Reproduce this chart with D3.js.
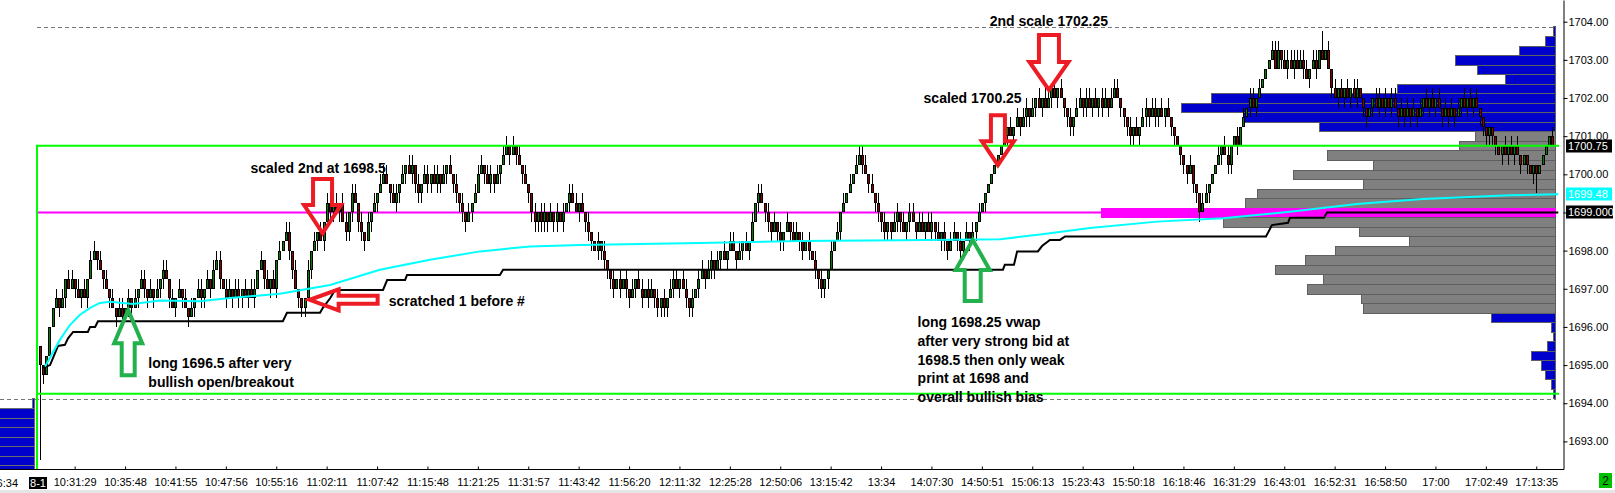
<!DOCTYPE html>
<html><head><meta charset="utf-8">
<script src="https://cdn.jsdelivr.net/npm/d3@7"></script>
<style>
html,body{margin:0;padding:0;background:#fff;overflow:hidden}
svg{display:block}
text{font-family:"Liberation Sans",Arial,sans-serif}
</style></head><body>
<svg id="c" width="1615" height="493"></svg>
<script>
// ---------------- DATA ----------------
const tickBase = 1690, tickSize = 0.25;          // closes are stored in ticks above 1690.00
const firstOpen = 1695.5;
const closesAM = [
20,19,21,24,26,27,26,27,29,28, 29,28,27,28,27,29,31,32,31,30,
29,28,27,26,25,26,25,26,27,26, 27,28,29,28,27,28,27,28,29,30,
29,27,26,27,28,27,26,25,26,27, 28,27,28,29,28,30,31,29,28,27,
28,27,28,27,28,27,28,27,28,30, 31,29,28,29,28,31,32,33,34,32,
30,28,27,26,27,30,32,33,34,33, 35,37,36,37,36,37,35,34,36,38,
37,35,34,33,35,36,37,38,39,40, 39,38,37,38,39,40,41,40,41,39,
38,39,40,39,40,39,40,39,40,41, 40,39,38,37,36,35,36,37,38,40,
41,40,39,40,39,40,41,42,43,42, 43,42,41,40,39,38,36,35,36,35,
36,35,36,35,36,35,36,37,38,37];
const closesMid = [
36,37,36,35,34,33,32,33,32,31, 30,29,28,29,28,29,28,27,28,29,
28,27,28,27,28,27,26,27,26,27, 28,29,28,29,28,27,26,27,28,29,
30,29,30,31,30,31,32,31,32,33, 32,31,32,33,32,33,35,37,38,37,
36,35,34,35,34,33,34,35,34,33, 34,33,32,33,32,31,30,29,28,29,
30,32,33,34,36,37,38,39,40,41, 42,41,40,39,38,37,36,35,34,35,
34,35,36,35,34,35,36,35,34,35, 34,35,34,35,34,33,34,33,32,33,
34,33,32,33,34,33,34,35,36,37, 38,39,40,41,42,43];
const closesPM = [
44,45,44,45,46,45,46,47,46,47, 48,47,48,47,48,49,48,49,48,47,
46,45,46,47,48,47,48,47,48,47, 48,47,48,47,48,49,48,47,46,45,
44,45,44,45,
46,47,46,47,46,47,46,47,46,45, 44,43,42,41,40,41,39,38,36,37,
38,39,40,41,42,43,42,41,43,44, 43,45,46,47,48,47,48,49,50,51,
52,53,51,53,52,51,52,51,52,51, 52,51,50,51,52,51,53,52,53,51,
49,48,49,48,49,48,49,48,49,48, 47,46,47,48,47,48,47,48,47,48,
47,46,47,46,47,46,47,46,47,48, 47,48,47,48,47,46,47,46,47,46,
47,48,47,48,47,48,47,46,45,44, 45,44,43,42,43,42,43,42,43,42,
41,42,41,40,41,40,41,42,43,44, 43];
// wick lengths in ticks beyond the body (base-36 digit per bar)
const wickUpGroups = ["0000010101","1010101101","0101011010","1011010101","1010101010","1101011101","1011010110","1010101011","0100010101","0110101101",
"1010101011","1011010110","1011011010","1010101011","1011010110","1010100101","1010101011","1010100101","0010101010","1101101010",
"1110110101","1011010101","1010101011","0101010101","1010101010","0101010101","1110101010","0110101101","1011010101","1010101010",
"0000001010","1011010101","1010100101","1011010110","1110001010","1101101010","0000010001","1000101100","1010110100","0111011111",
"1110110201","0101010110","0000110101","1010101010","1010101010","1010101000","0000010101","0000000000","1"];
const wickDnGroups = ["a100001010","0101010010","1010101011","0101101011","0101010101","0110100101","0101101010","0101010001","1011101010","1011010111",
"0111010100","0101101011","1101101101","0111110100","0101101001","0101011111","1101101010","0101110111","1110101101","0101011111",
"0101011101","0101101010","0101010010","1110111010","0110101111","1000100000","0101011111","1011011010","0101101110","0111010100",
"1000000101","0101101010","0101011110","0110101101","0001111101","0110110101","1011101110","0100010110","1000101000","0000101010",
"0101010000","1010101010","1101010101","0101010101","0101010101","0101010111","1110101010","1010120000","0"];

// VWAP (cyan) read at bar positions
const vwapBars = [1.6,6.3,9.5,12.7,15.9,19,22.2,29.5,38.1,50.8,60.3,76.2,92.1,107.9,123.8,139.7,155.6,171.4,209.5,241.3,273,304.8,317.5,333.3,354.6,375.6,396.8,418.1,439,466.7,482];
const vwapVals = [1694.96,1695.66,1696.05,1696.32,1696.5,1696.63,1696.66,1696.6,1696.69,1696.67,1696.76,1696.87,1697.1,1697.5,1697.76,1697.98,1698.11,1698.15,1698.2,1698.25,1698.27,1698.3,1698.42,1698.59,1698.76,1698.85,1699.02,1699.22,1699.35,1699.45,1699.48];
// developing POC (black step line)
const dpocBars = [0.95,3.2,4.8,5.7,7.9,8.9,10.5,15.2,15.9,17.5,18.4,77.1,78.4,88.9,89.8,92.1,93.7,108.9,110.2,115.9,116.5,146,147,305.7,306.3,309.2,310.2,316.8,318.1,320.6,323.8,325.4,389.2,391.1,396.2,396.8,407.6,408.6,482];
const dpocVals = [1694.93,1695.0,1695.32,1695.5,1695.53,1695.7,1695.87,1695.87,1696.0,1696.0,1696.15,1696.15,1696.37,1696.37,1696.5,1696.75,1696.97,1696.97,1697.23,1697.23,1697.36,1697.36,1697.5,1697.5,1697.63,1697.63,1697.98,1697.98,1698.12,1698.28,1698.28,1698.37,1698.37,1698.67,1698.73,1698.86,1698.86,1699.0,1699.0];

// volume profile of the day (top to bottom)
const profTop = 1703.75;
const profVols = [1,5,18,50,39,25,79,172,187,156, 118,40,48,114,91,131,96,149,155,227, 166,98,73,110,125,140,116,124,97,96, 32,2,1,4,12,7,5,2,1];
const vaHigh = 1701.0, vaLow = 1696.5, pocPrice = 1699.0;
// previous day profile (partly visible)
const prevProfPrices = [1694.0,1693.75,1693.5,1693.25,1693.0,1692.75,1692.5,1692.25];
const prevProfVols = [1,80,95,110,120,105,90,70];

const rangeHigh = 1700.75, rangeLow = 1694.25;
const dashHigh = 1703.85, dashLow = 1694.11;
const lastPrice = 1700.75, vwapLast = 1699.48, dpocLast = 1699.0;

const priceTicks = [1693,1694,1695,1696,1697,1698,1699,1700,1701,1702,1703,1704];
const timeLabels = ["10:31:29","10:35:48","10:41:55","10:47:56","10:55:16","11:02:11","11:07:42","11:15:48","11:21:25","11:31:57",
"11:43:42","11:56:20","12:11:32","12:25:28","12:50:06","13:15:42","13:34","14:07:30","14:50:51","15:06:13",
"15:23:43","15:50:18","16:18:46","16:31:29","16:43:01","16:52:31","16:58:50","17:00","17:02:49","17:13:35"];
const firstLabelBar = 11, labelEvery = 16;
const dayLabel = "8-1", prevLabel = "16:34";

const notes = [
 {bar:66.8, price:1700.03, lines:["scaled 2nd at 1698.5"]},
 {bar:110.7, price:1696.55, lines:["scratched 1 before #"]},
 {bar:34.4, price:1694.92, lines:["long 1696.5 after very","bullish open/breakout"]},
 {bar:278.6, price:1695.99, lines:["long 1698.25 vwap","after very strong bid at","1698.5 then only weak","print at 1698 and","overall bullish bias"]},
 {bar:280.5, price:1701.86, lines:["scaled 1700.25"]},
 {bar:301.5, price:1703.89, lines:["2nd scale 1702.25"]}
];
const arrows = [
 {bar:89.7, price:1698.46, dir:"down", color:"#ed1c24", s:9.5, h:18.5, L:28, T:54},
 {bar:85.6, price:1696.71, dir:"left", color:"#ed1c24", s:4, h:10.5, L:29, T:68},
 {bar:304.1, price:1700.24, dir:"down", color:"#ed1c24", s:7, h:16, L:24, T:50},
 {bar:320.3, price:1702.21, dir:"down", color:"#ed1c24", s:10, h:19.5, L:28, T:55},
 {bar:28.0, price:1696.44, dir:"up", color:"#22b14c", s:6.5, h:14, L:33, T:65},
 {bar:296.1, price:1698.28, dir:"up", color:"#22b14c", s:8, h:17, L:30, T:61}
];

// ---------------- CHART ----------------
const W = 1615, H = 493, plotR = 1563, plotB = 469;
const closeTicks = closesAM.concat(closesMid, closesPM);
const wickUp = wickUpGroups.join(""), wickDn = wickDnGroups.join("");
const N = closeTicks.length;
const x = d3.scaleLinear().domain([0, N - 1]).range([40, 1552]);
const y = d3.scaleLinear().domain([1692.276, 1704.569]).range([plotB, 0]);
const toPrice = t => tickBase + t * tickSize;
const bars = closeTicks.map((t, i) => {
  const c = toPrice(t);
  const o = i === 0 ? firstOpen : toPrice(closeTicks[i - 1]);
  const u = parseInt(wickUp[i] || "0", 36) * tickSize;
  const d = parseInt(wickDn[i] || "0", 36) * tickSize;
  return {i, o, c, h: Math.max(o, c) + u, l: Math.min(o, c) - d};
});

const svg = d3.select("#c");
svg.append("rect").attr("width", W).attr("height", H).attr("fill", "#fff");
svg.append("defs").append("clipPath").attr("id", "plot")
  .append("rect").attr("x", 0).attr("y", 0).attr("width", plotR).attr("height", plotB);
const g = svg.append("g").attr("clip-path", "url(#plot)");

// profile helpers
const half = tickSize / 2;
const profScale = d3.scaleLinear().domain([0, d3.max(profVols)]).range([0, 454]);
const profRight = 1555;
const profData = profVols.map((v, k) => ({p: profTop - k * tickSize, v}));

function bandY(p){ return Math.round(y(p + half)) + 0.5; }
function bandH(p){ return Math.round(y(p - half)) - Math.round(y(p + half)); }

// previous day profile
g.selectAll("rect.pp").data(prevProfPrices.map((p, k) => ({p, v: prevProfVols[k]}))).enter()
  .append("rect").attr("class", "pp")
  .attr("x", d => 34.5 - profScale(d.v)).attr("y", d => bandY(d.p))
  .attr("width", d => profScale(d.v)).attr("height", d => bandH(d.p))
  .attr("fill", "#0000cd").attr("stroke", "#6a6a6a").attr("stroke-width", 1);

// day profile
g.selectAll("rect.pf").data(profData).enter().append("rect").attr("class", "pf")
  .attr("x", d => Math.round(profRight - profScale(d.v)) + 0.5).attr("y", d => bandY(d.p))
  .attr("width", d => Math.max(1, Math.round(profScale(d.v))))
  .attr("height", d => bandH(d.p))
  .attr("fill", d => d.p === pocPrice ? "#ff00ff" : (d.p <= vaHigh && d.p >= vaLow ? "#808080" : "#0000cd"))
  .attr("stroke", d => d.p === pocPrice ? "#ff00ff" : "#5f5f5f").attr("stroke-width", 1);

// dashed range lines
g.append("line").attr("x1", 37).attr("x2", 1556).attr("y1", Math.round(y(dashHigh)) + 0.5).attr("y2", Math.round(y(dashHigh)) + 0.5)
  .attr("stroke", "#777").attr("stroke-dasharray", "4,3");
g.append("line").attr("x1", 0).attr("x2", 1556).attr("y1", Math.round(y(dashLow)) + 0.5).attr("y2", Math.round(y(dashLow)) + 0.5)
  .attr("stroke", "#777").attr("stroke-dasharray", "4,3");

// POC line
g.append("line").attr("x1", 37).attr("x2", 1555).attr("y1", y(pocPrice)).attr("y2", y(pocPrice))
  .attr("stroke", "#ff00ff").attr("stroke-width", 2);

// candles
const cg = g.append("g").attr("shape-rendering", "crispEdges");
cg.selectAll("line.w").data(bars).enter().append("line").attr("class", "w")
  .attr("x1", d => Math.round(x(d.i)) + 0.5).attr("x2", d => Math.round(x(d.i)) + 0.5)
  .attr("y1", d => Math.round(y(d.h))).attr("y2", d => Math.round(y(d.l)))
  .attr("stroke", "#000").attr("stroke-width", 1);
cg.selectAll("rect.b").data(bars).enter().append("rect").attr("class", "b")
  .attr("x", d => Math.round(x(d.i)) - 0.5).attr("width", 2)
  .attr("y", d => Math.round(y(Math.max(d.o, d.c))) + 0.5)
  .attr("height", d => Math.max(0, Math.round(y(Math.min(d.o, d.c))) - Math.round(y(Math.max(d.o, d.c))) - 1))
  .attr("fill", d => d.c >= d.o ? "#008000" : "#8b0000")
  .attr("stroke", "#000").attr("stroke-width", 1);

// developing POC + VWAP
const line = d3.line().x(d => x(d[0])).y(d => y(d[1]));
g.append("path").attr("d", line(dpocBars.map((b, k) => [b, dpocVals[k]])))
  .attr("fill", "none").attr("stroke", "#000").attr("stroke-width", 2);
g.append("path").attr("d", line(vwapBars.map((b, k) => [b, vwapVals[k]])))
  .attr("fill", "none").attr("stroke", "#00ffff").attr("stroke-width", 2);

// green range lines
g.append("line").attr("x1", 37).attr("x2", 1559).attr("y1", y(rangeHigh)).attr("y2", y(rangeHigh)).attr("stroke", "#00ff00").attr("stroke-width", 2);
g.append("line").attr("x1", 37).attr("x2", 1559).attr("y1", y(rangeLow)).attr("y2", y(rangeLow)).attr("stroke", "#00ff00").attr("stroke-width", 2);
g.append("line").attr("x1", 37).attr("x2", 37).attr("y1", y(rangeHigh) - 1).attr("y2", plotB).attr("stroke", "#00ff00").attr("stroke-width", 2);

// arrows
function arrowPts(a){
  const {s, h, L, T} = a; let pts;
  if (a.dir === "down") pts = [[-s,-T],[s,-T],[s,-L],[h,-L],[0,0],[-h,-L],[-s,-L]];
  else if (a.dir === "up") pts = [[-s,T],[s,T],[s,L],[h,L],[0,0],[-h,L],[-s,L]];
  else pts = [[T,-s],[L,-s],[L,-h],[0,0],[L,h],[L,s],[T,s]];
  const tx = x(a.bar), ty = y(a.price);
  return pts.map(p => [tx + p[0], ty + p[1]].join(",")).join(" ");
}
svg.selectAll("polygon.ar").data(arrows).enter().append("polygon").attr("class", "ar")
  .attr("points", arrowPts).attr("fill", "none").attr("stroke", d => d.color)
  .attr("stroke-width", 4).attr("stroke-linejoin", "miter");

// notes
notes.forEach(n => {
  const t = svg.append("text").attr("x", x(n.bar)).attr("y", y(n.price))
    .attr("font-size", 14).attr("font-weight", "bold").attr("fill", "#000");
  n.lines.forEach((ln, k) => t.append("tspan").attr("x", x(n.bar)).attr("dy", k === 0 ? 0 : 18.6).text(ln));
});

// right axis (the 1699 label is hidden behind the POC price box)
const ya = d3.axisRight(y).tickValues(priceTicks).tickFormat(d => d === dpocLast ? "" : d3.format(".2f")(d))
  .tickSize(4).tickSizeOuter(0).tickPadding(1);
const yg = svg.append("g").attr("transform", `translate(${plotR + 0.5},0)`).call(ya);
yg.selectAll("text").attr("font-size", 11).attr("fill", "#000").style("font-family", '"Liberation Sans",Arial,sans-serif');
yg.selectAll("line,path").attr("stroke", "#000");

function priceBox(p, txt, bg){
  const b = svg.append("g").attr("transform", `translate(1566,${Math.round(y(p))})`);
  b.append("rect").attr("x", 0).attr("y", -6.5).attr("width", txt.length > 7 ? 47 : 46).attr("height", 13).attr("fill", bg);
  b.append("text").attr("x", 2).attr("y", 4).attr("font-size", 11).attr("fill", "#fff").text(txt);
}
priceBox(lastPrice, lastPrice.toFixed(2), "#000");
priceBox(vwapLast, vwapLast.toFixed(2), "#00ffff");
priceBox(dpocLast, dpocLast.toFixed(3), "#000");

// bottom axis
svg.append("line").attr("x1", 0).attr("x2", plotR + 1).attr("y1", plotB + 0.5).attr("y2", plotB + 0.5).attr("stroke", "#000");
const tickBars = timeLabels.map((_, k) => firstLabelBar + k * labelEvery);
const xa = d3.axisBottom(x).tickValues(tickBars).tickFormat((d, k) => timeLabels[k]).tickSize(-3).tickPadding(9);
const xg = svg.append("g").attr("transform", `translate(0,${plotB + 0.5})`).call(xa);
xg.select(".domain").remove();
xg.selectAll("text").attr("font-size", 11).attr("fill", "#000").style("font-family", '"Liberation Sans",Arial,sans-serif');
xg.selectAll("line").attr("stroke", "#000");

// day separator label and previous label
svg.append("rect").attr("x", 29).attr("y", 477).attr("width", 18).attr("height", 12).attr("fill", "#000");
svg.append("text").attr("x", 38).attr("y", 487).attr("text-anchor", "middle").attr("font-size", 11).attr("fill", "#fff").text(dayLabel);
svg.append("text").attr("x", 18).attr("y", 487).attr("text-anchor", "end").attr("font-size", 11).attr("fill", "#000").text(prevLabel);

// corner badge
svg.append("rect").attr("x", 1599).attr("y", 473).attr("width", 13).attr("height", 15).attr("fill", "#00c000");
svg.append("text").attr("x", 1605.5).attr("y", 485).attr("text-anchor", "middle").attr("font-size", 12).attr("fill", "#000").text("2");
svg.append("rect").attr("x", 0).attr("y", 490).attr("width", W).attr("height", 3).attr("fill", "#e6e6e6");
</script>
</body></html>
